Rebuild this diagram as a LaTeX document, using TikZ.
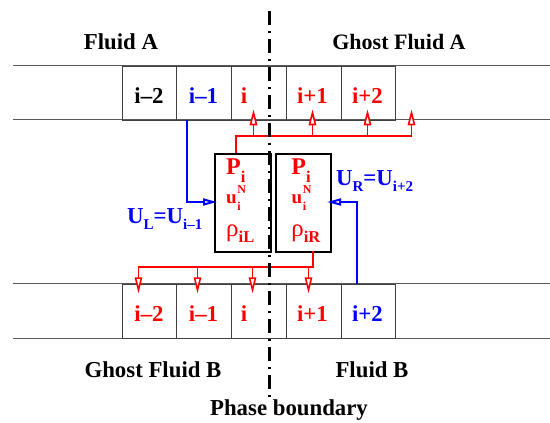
\documentclass[tikz,border=0pt]{standalone}
\usepackage{fontspec}
\setmainfont{Liberation Serif}
\usetikzlibrary{arrows.meta}
\newcommand\bigf{\fontsize{22.8}{26}\selectfont}
\newcommand\midf{\fontsize{15}{16}\selectfont}
\newcommand\smf{\fontsize{12}{13}\selectfont}
\begin{document}
\begin{tikzpicture}[x=1pt,y=-1pt,
  big/.style={font=\bigf\bfseries, inner sep=0pt, anchor=base},
  cellbox/.style={draw=black!75, line width=1pt, minimum width=54.7pt, minimum height=54.5pt, inner sep=0pt, anchor=north west},
  stripline/.style={draw=black!65, line width=1pt},
  fbox/.style={draw=black, line width=2.2pt, inner sep=0pt, anchor=north west},
  redtip/.style={draw=red, line width=1.6pt, -{Triangle[length=16pt,width=7.5pt,fill=white]}},
  redbus/.style={draw=red, line width=2pt},
  bluetip/.style={draw=blue, line width=2pt, -{Triangle[length=14pt,width=7pt,fill=white]}},
  boxtxt/.style={anchor=base west, inner sep=0pt, text=red, font=\bfseries},
  phase/.style={line width=3pt, dash pattern=on 14pt off 6pt on 2pt off 6pt}
]
\useasboundingbox (0,0) rectangle (550,423);

% strips
\draw[stripline] (12.5,65.5) -- (550,65.5);
\draw[stripline] (12.5,119.5) -- (550,119.5);
\draw[stripline] (12.5,283.5) -- (550,283.5);
\draw[stripline] (12.5,338.5) -- (550,338.5);
\foreach \k in {0,...,4}{
  \node[cellbox] (t\k) at ({121.7+54.7*\k},65.5) {};
  \node[cellbox] (b\k) at ({121.7+54.7*\k},283.5) {};
}

% cell labels top
\node[big] (lt0) at (149,103.3) {i–2};
\node[big, text=blue] (lt1) at (203.5,103.3) {i–1};
\node[big, text=red] (lt2) at (244,103.3) {i};
\node[big, text=red] (lt3) at (312.5,103.3) {i+1};
\node[big, text=red] (lt4) at (367.5,103.3) {i+2};
% cell labels bottom
\node[big, text=red] (lb0) at (149,321.7) {i–2};
\node[big, text=red] (lb1) at (203.5,321.7) {i–1};
\node[big, text=red] (lb2) at (244,321.7) {i};
\node[big, text=red] (lb3) at (312.5,321.7) {i+1};
\node[big, text=blue] (lb4) at (367.5,321.7) {i+2};

% titles
\node[big] (fa) at (121,49) {Fluid A};
\node[big, font=\fontsize{22}{26}\selectfont\bfseries] (gfa) at (399,49) {Ghost Fluid A};
\node[big] (gfb) at (153,377.5) {Ghost Fluid B};
\node[big] (fb) at (372,377.5) {Fluid B};
\node[big] (pb) at (289,415.5) {Phase boundary};

% boxes
\node[fbox, minimum width=56pt, minimum height=98.2pt] (boxL) at (213.5,152.5) {};
\node[fbox, minimum width=55pt, minimum height=98.2pt] (boxR) at (274.5,152.5) {};

% box contents
\node[boxtxt] (pL) at (226,174) {\fontsize{24}{25}\selectfont P\raisebox{-8pt}{\fontsize{16.5}{17}\selectfont i}};
\node[boxtxt] (uL) at (226,203) {\fontsize{19}{20}\selectfont u\kern0.6pt\rlap{\raisebox{9.5pt}{\smf N}}\raisebox{-7.5pt}{\smf i}};
\node[boxtxt] (rL) at (226,236) {\fontsize{25}{26}\selectfont\mdseries ρ\raisebox{-6pt}{\bfseries\fontsize{16.5}{17}\selectfont iL}};
\node[boxtxt] (pR) at (291.2,174) {\fontsize{24}{25}\selectfont P\raisebox{-8pt}{\fontsize{16.5}{17}\selectfont i}};
\node[boxtxt] (uR) at (291.5,203) {\fontsize{19}{20}\selectfont u\kern0.6pt\rlap{\raisebox{9.5pt}{\smf N}}\raisebox{-7.5pt}{\smf i}};
\node[boxtxt] (rR) at (291.2,236) {\fontsize{25}{26}\selectfont\mdseries ρ\raisebox{-6pt}{\bfseries\fontsize{16.5}{17}\selectfont iR}};

% blue labels
\node[big, anchor=base west, text=blue] (UL) at (127,223) {U\raisebox{-6.5pt}{\midf L}=U\raisebox{-6.5pt}{\midf i–1}};
\node[big, anchor=base west, text=blue] (UR) at (336,185) {U\raisebox{-6.5pt}{\midf R}=U\raisebox{-6.5pt}{\midf i+2}};

% red distribution, top
\coordinate (tbusS) at (236,152.5);
\coordinate (tbusE) at (412,136);
\foreach \x/\n in {253.5/a,312.5/b,367.5/c,411.5/d}{
  \coordinate (tu\n) at (\x,136);
  \coordinate (tv\n) at (\x,109.3);
  \draw[redtip] (tu\n) -- (tv\n);
}
\draw[redbus] (tbusS) |- (tbusE);
% red distribution, bottom
\coordinate (bbusS) at (313,250.7);
\coordinate (bbusW) at (138,267);
\foreach \x/\n in {138.5/a,197.5/b,252.5/c,308.5/d}{
  \coordinate (bu\n) at (\x,267);
  \coordinate (bv\n) at (\x,293.3);
  \draw[redtip] (bu\n) -- (bv\n);
}
\draw[redbus] (bbusS) |- (bbusW);

% blue connectors
\coordinate (blueLs) at (187,119.5);
\coordinate (blueLe) at (217,202);
\coordinate (blueRs) at (357,283.5);
\coordinate (blueRe) at (327,202);
\draw[bluetip] (blueLs) |- (blueLe);
\draw[bluetip] (blueRs) |- (blueRe);

% phase boundary
\draw[phase] (269.5,11) -- (269.5,399);
\end{tikzpicture}
\end{document}
